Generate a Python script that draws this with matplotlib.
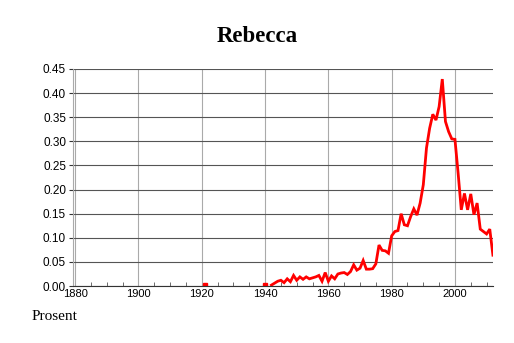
import matplotlib
matplotlib.use("Agg")
import matplotlib.pyplot as plt
from matplotlib.ticker import MultipleLocator

# Share of newborns named Rebecca (percent), by year
years = list(range(1942, 2013))
values = [
    0.002, 0.006, 0.010, 0.012, 0.007, 0.015, 0.009, 0.022, 0.012, 0.019,  # 1942-1951
    0.014, 0.019, 0.015, 0.017, 0.019, 0.022, 0.010, 0.028, 0.010, 0.021,  # 1952-1961
    0.015, 0.025, 0.027, 0.028, 0.024, 0.030, 0.044, 0.033, 0.037, 0.053,  # 1962-1971
    0.035, 0.035, 0.036, 0.046, 0.085, 0.074, 0.073, 0.068, 0.104, 0.113,  # 1972-1981
    0.115, 0.150, 0.127, 0.125, 0.144, 0.160, 0.147, 0.172, 0.210, 0.286,  # 1982-1991
    0.327, 0.356, 0.344, 0.372, 0.429, 0.341, 0.320, 0.305, 0.304, 0.234,  # 1992-2001
    0.158, 0.192, 0.158, 0.191, 0.148, 0.172, 0.118, 0.113, 0.108, 0.118,  # 2002-2011
    0.064,                                                                 # 2012
]

# single isolated years before the continuous series
lone_years = [1921, 1940]
lone_values = [0.002, 0.002]

fig = plt.figure(figsize=(5.14, 3.43), dpi=100)
ax = fig.add_axes([0.142, 0.166, 0.817, 0.633])

ax.plot(years, values, color="red", linewidth=2.0, solid_joinstyle="miter")
ax.plot(lone_years, lone_values, "s", color="red", markersize=2.5)

ax.set_xlim(1879.3, 2012)
ax.set_ylim(0, 0.45)

ax.xaxis.set_major_locator(MultipleLocator(20))
ax.xaxis.set_minor_locator(MultipleLocator(5))
ax.yaxis.set_major_locator(MultipleLocator(0.05))
ax.yaxis.set_major_formatter(matplotlib.ticker.FormatStrFormatter("%.2f"))

ax.grid(axis="y", color="#555555", linewidth=0.8)
ax.grid(axis="x", color="#aaaaaa", linewidth=0.8)
ax.set_axisbelow(True)

for side in ["top", "right"]:
    ax.spines[side].set_visible(False)
ax.spines["left"].set_color("#aaaaaa")
ax.spines["left"].set_linewidth(0.8)
ax.spines["bottom"].set_color("#333333")
ax.spines["bottom"].set_linewidth(0.8)

ax.tick_params(axis="y", direction="out", length=3, width=0.8, color="#333333",
               labelsize=8.5, pad=2)
ax.tick_params(axis="x", which="major", direction="in", length=0, labelsize=8, pad=2)
ax.tick_params(axis="x", which="minor", direction="in", length=3, width=0.6, color="#555555")
for lbl in ax.get_xticklabels() + ax.get_yticklabels():
    lbl.set_family("Liberation Sans")

fig.text(0.5, 0.895, "Rebecca", ha="center", va="center",
         family="Liberation Serif", fontweight="bold", fontsize=16.5)
fig.text(0.062, 0.076, "Prosent", ha="left", va="center",
         family="Liberation Serif", fontsize=11)

fig.savefig("out.png", dpi=100)
